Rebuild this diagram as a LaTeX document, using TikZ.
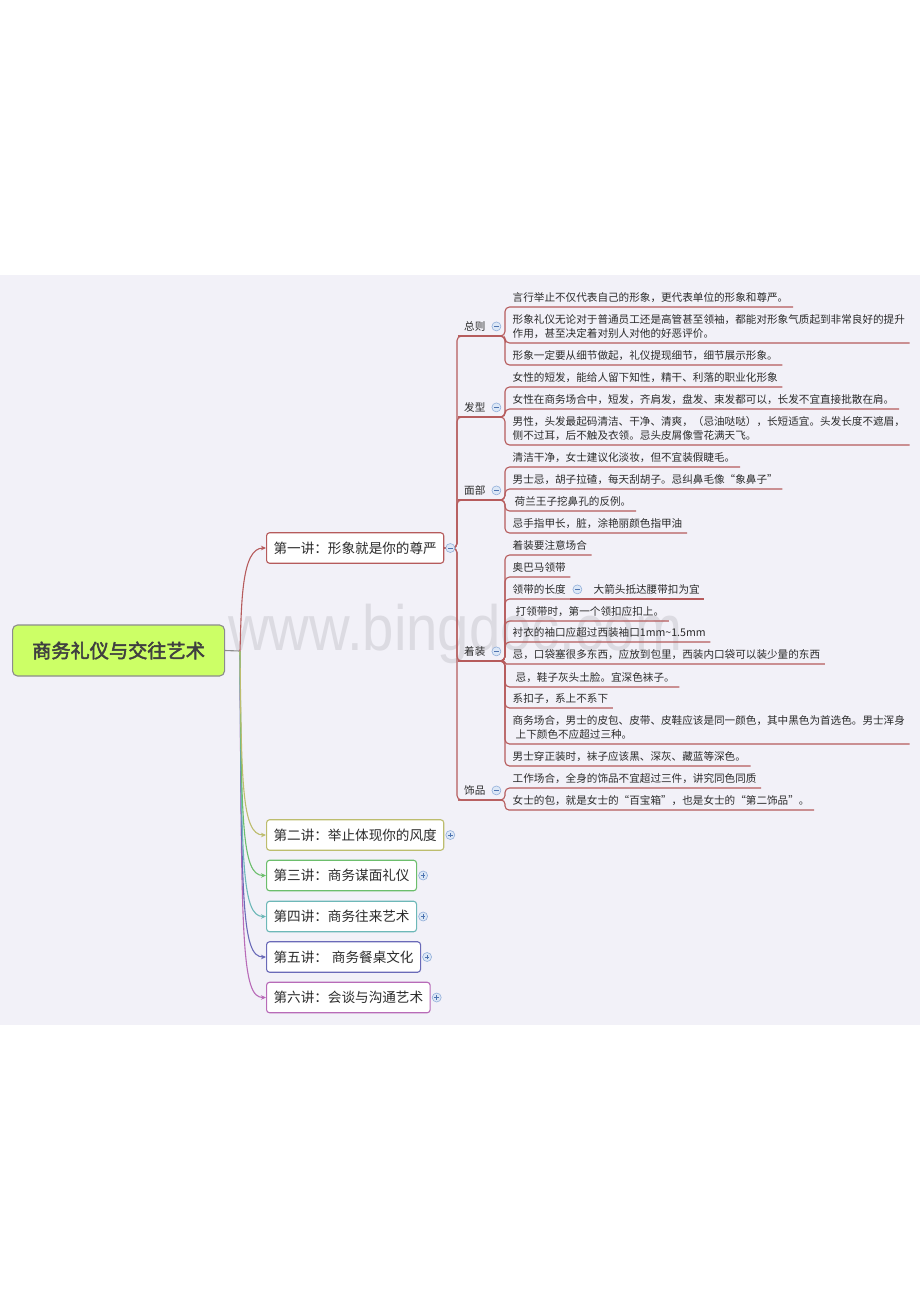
\documentclass[tikz,border=0pt]{standalone}
\usepackage{fontspec}
\setmainfont{Noto Sans CJK SC}
\newfontfamily\rootfont[FakeBold=2.5]{Noto Sans CJK SC}
\newfontfamily\wmfont{Liberation Sans}
\usetikzlibrary{arrows.meta,calc}
\definecolor{bg}{HTML}{F2F1F8}
\definecolor{wm}{HTML}{DCDBE2}
\definecolor{txt}{HTML}{2B2B2B}
\definecolor{rootfill}{HTML}{CCFF66}
\definecolor{rootdraw}{HTML}{8C8C8C}
\definecolor{bA}{HTML}{B65B5C}
\definecolor{bB}{HTML}{BDBD6E}
\definecolor{bC}{HTML}{6CBE6C}
\definecolor{bD}{HTML}{6DB8B8}
\definecolor{bE}{HTML}{6A6AB8}
\definecolor{bF}{HTML}{B86BB8}
\definecolor{tgfill}{HTML}{DCE7F6}
\definecolor{tgdraw}{HTML}{93B0DA}
\definecolor{tgsign}{HTML}{4F74B0}
\tikzset{
  rootbox/.style={anchor=west, fill=rootfill, draw=rootdraw, line width=1.1pt, rounded corners=5pt,
    minimum width=212pt, minimum height=51pt, inner sep=0pt,
    font=\rootfont\fontsize{19.2pt}{22pt}\selectfont, text=black!75},
  topic/.style={anchor=west, draw=#1, fill=white, line width=1.1pt, rounded corners=3pt,
    minimum height=30.5pt, inner xsep=7pt, inner ysep=0pt,
    font=\fontsize{13.6pt}{16pt}\selectfont, text=txt},
  lvtwo/.style={anchor=south west, inner xsep=6pt, inner ysep=4.5pt, text width=32pt, align=left,
    font=\fontsize{10.6pt}{14pt}\selectfont, text=txt},
  leaf/.style={anchor=south west, inner xsep=4.5pt, inner ysep=4.5pt, align=left,
    font=\fontsize{10.6pt}{14pt}\selectfont, text=txt},
  br/.style={draw=#1, line width=1.1pt, rounded corners=4.5pt},
  lk/.style={draw=#1, line width=1.1pt, -{Stealth[length=5pt,width=4.5pt]}},
  tgbase/.style={circle, draw=tgdraw, fill=tgfill, line width=0.6pt, minimum size=9pt, inner sep=0pt},
  tminus/.style={tgbase, path picture={\draw[tgsign, line width=0.8pt]
      ([xshift=-2.3pt]path picture bounding box.center) -- ([xshift=2.3pt]path picture bounding box.center);}},
  tplus/.style={tgbase, path picture={\draw[tgsign, line width=0.8pt]
      ([xshift=-2.3pt]path picture bounding box.center) -- ([xshift=2.3pt]path picture bounding box.center)
      ([yshift=-2.3pt]path picture bounding box.center) -- ([yshift=2.3pt]path picture bounding box.center);}}
}
\begin{document}
\begin{tikzpicture}[x=1pt,y=-1pt]
\useasboundingbox (0,0) rectangle (920,1302);
\fill[white] (0,0) rectangle (920,1302);
\fill[bg] (0,275) rectangle (920,1025);
\node[anchor=base west, inner sep=0pt, text=wm, font=\wmfont\fontsize{64pt}{64pt}\selectfont] (wmk) at (228,650) {\scalebox{0.88}[1]{www.bingdoc.com}};

% root and level-1
\node[rootbox] (root) at (12,650.5) {商务礼仪与交往艺术};
\coordinate (J) at (240,651);
\node[topic=bA] (n1) at (266,548) {第一讲：形象就是你的尊严};
\node[topic=bB] (n2) at (266,835) {第二讲：举止体现你的风度};
\node[topic=bC] (n3) at (266,875.5) {第三讲：商务谋面礼仪};
\node[topic=bD] (n4) at (266,916.5) {第四讲：商务往来艺术};
\node[topic=bE] (n5) at (266,957) {第五讲：\hspace{4pt}商务餐桌文化};
\node[topic=bF] (n6) at (266,997.5) {第六讲：会谈与沟通艺术};

\draw[rootdraw, line width=1.1pt] (root.east) -- (J);
\draw[lk=bF] (J) .. controls ($(J|-n6.west)+(1.5,-55)$) and ($(J|-n6.west)+(1.5,0)$) .. (n6.west);
\draw[lk=bE] (J) .. controls ($(J|-n5.west)+(1.5,-55)$) and ($(J|-n5.west)+(1.5,0)$) .. (n5.west);
\draw[lk=bD] (J) .. controls ($(J|-n4.west)+(1.5,-55)$) and ($(J|-n4.west)+(1.5,0)$) .. (n4.west);
\draw[lk=bC] (J) .. controls ($(J|-n3.west)+(1.5,-55)$) and ($(J|-n3.west)+(1.5,0)$) .. (n3.west);
\draw[lk=bB] (J) .. controls ($(J|-n2.west)+(1.5,-55)$) and ($(J|-n2.west)+(1.5,0)$) .. (n2.west);
\draw[lk=bA] (J) .. controls ($(J|-n1.west)+(1.5,55)$) and ($(J|-n1.west)+(1.5,0)$) .. (n1.west);

% level-2
\node[lvtwo] (za) at (458,336) {总则};
\node[lvtwo] (fx) at (458,417) {发型};
\node[lvtwo] (mb) at (458,500) {面部};
\node[lvtwo] (zz) at (458,661) {着装};
\node[lvtwo] (sp) at (458,800) {饰品};

\foreach \t in {za,fx,mb,zz,sp}
  \draw[br=bA] (n1.east) -| ([xshift=-1pt]\t.south west) -- (\t.south east);

% leaves
\node[leaf] (a1) at (508,307) {言行举止不仅代表自己的形象，更代表单位的形象和尊严。};
\node[leaf] (a2) at (508,343) {形象礼仪无论对于普通员工还是高管甚至领袖，都能对形象气质起到非常良好的提升\\作用，甚至决定着对别人对他的好恶评价。};
\node[leaf] (a3) at (508,365) {形象一定要从细节做起，礼仪提现细节，细节展示形象。};
\node[leaf] (b1) at (508,387) {女性的短发，能给人留下知性，精干、利落的职业化形象};
\node[leaf] (b2) at (508,409) {女性在商务场合中，短发，齐肩发，盘发、束发都可以，长发不宜直接批散在肩。};
\node[leaf] (b3) at (508,445) {男性，头发最起码清洁、干净、清爽，（忌油哒哒），长短适宜。头发长度不遮眉，\\侧不过耳，后不触及衣领。忌头皮屑像雪花满天飞。};
\node[leaf] (c1) at (508,467) {清洁干净，女士建议化淡妆，但不宜装假睫毛。};
\node[leaf] (c2) at (508,489) {男士忌，胡子拉碴，每天刮胡子。忌纠鼻毛像“象鼻子”};
\node[leaf] (c3) at (508,511) {\hspace{2pt}荷兰王子挖鼻孔的反例。};
\node[leaf] (c4) at (508,533) {忌手指甲长，脏，涂艳丽颜色指甲油};
\node[leaf] (d1) at (508,555) {着装要注意场合};
\node[leaf] (d2) at (508,577) {奥巴马领带};
\node[leaf] (d3) at (508,599) {领带的长度};
\node[leaf] (d3a) at (589,599) {大箭头抵达腰带扣为宜};
\node[leaf] (d4) at (508,621) {\hspace{3pt}打领带时，第一个领扣应扣上。};
\node[leaf] (d5) at (508,642) {衬衣的袖口应超过西装袖口1mm\textasciitilde1.5mm};
\node[leaf] (d6) at (508,664) {忌，口袋塞很多东西，应放到包里，西装内口袋可以装少量的东西};
\node[leaf] (d7) at (508,687) {\hspace{3pt}忌，鞋子灰头土脸。宜深色袜子。};
\node[leaf] (d8) at (508,708) {系扣子，系上不系下};
\node[leaf] (d9) at (508,744) {商务场合，男士的皮包、皮带、皮鞋应该是同一颜色，其中黑色为首选色。男士浑身\\\hspace{3pt}上下颜色不应超过三种。};
\node[leaf] (d10) at (508,766) {男士穿正装时，袜子应该黑、深灰、藏蓝等深色。};
\node[leaf] (e1) at (508,788) {工作场合，全身的饰品不宜超过三件，讲究同色同质};
\node[leaf] (e2) at (508,810) {女士的包，就是女士的“百宝箱”，也是女士的“第二饰品”。};

\foreach \p/\c in {za/a1,za/a2,za/a3,fx/b1,fx/b2,fx/b3,mb/c1,mb/c2,mb/c3,mb/c4,
  zz/d1,zz/d2,zz/d3,zz/d4,zz/d5,zz/d7,zz/d8,zz/d9,zz/d10,sp/e1}
  \draw[br=bA] (\p.south west) -| ([xshift=-3pt]\c.south west) -- (\c.south east);
\draw[br=bA, rounded corners=1.4pt] (zz.south west) -| ([xshift=-3pt]d6.south west) -- (d6.south east);
\draw[br=bA, rounded corners=4pt] (sp.south west) -| ([xshift=-3pt]e2.south west) -- (e2.south east);
\draw[br=bA] (d3.south east) -- (d3a.south east);

% toggles
\node[tminus] (t1) at ([xshift=6pt]n1.east) {};
\node[tplus] (t2) at ([xshift=6pt]n2.east) {};
\node[tplus] (t3) at ([xshift=6pt]n3.east) {};
\node[tplus] (t4) at ([xshift=6pt]n4.east) {};
\node[tplus] (t5) at ([xshift=6pt]n5.east) {};
\node[tplus] (t6) at ([xshift=6pt]n6.east) {};
\node[tminus] (tza) at ([xshift=-6pt]za.east) {};
\node[tminus] (tfx) at ([xshift=-6pt]fx.east) {};
\node[tminus] (tmb) at ([xshift=-6pt]mb.east) {};
\node[tminus] (tzz) at ([xshift=-6pt]zz.east) {};
\node[tminus] (tsp) at ([xshift=-6pt]sp.east) {};
\node[tminus] (td3) at ([xshift=7pt]d3.east) {};
\end{tikzpicture}
\end{document}
